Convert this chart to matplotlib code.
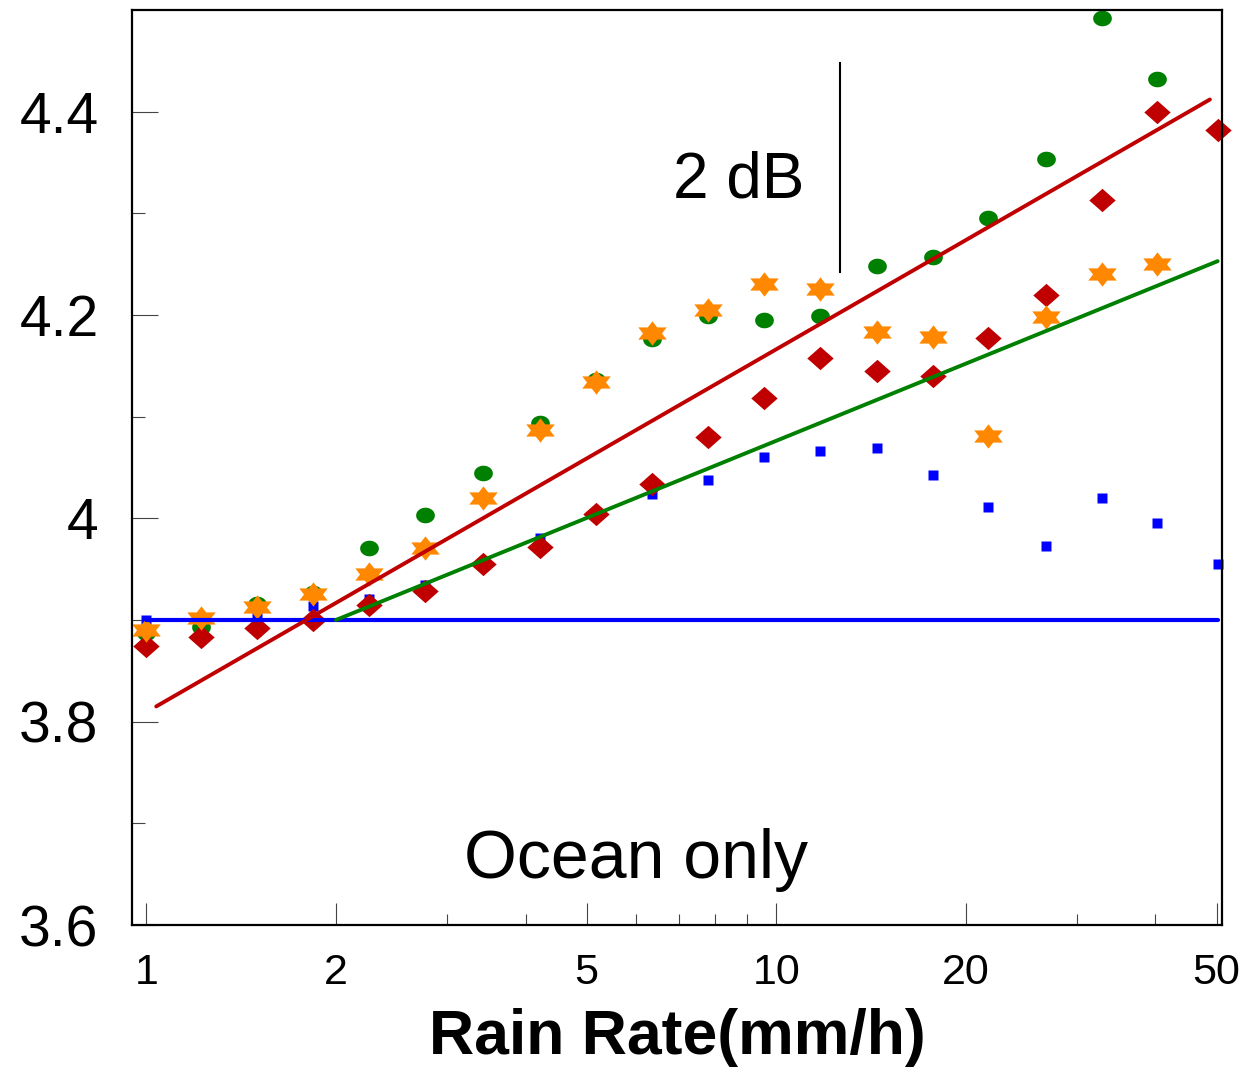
import numpy as np
import matplotlib
matplotlib.use("Agg")
import matplotlib.pyplot as plt
from matplotlib.ticker import FixedLocator, FuncFormatter

plt.rcParams['font.family'] = ['Liberation Sans', 'DejaVu Sans']

# rain rate bins (mm/h)
rain_rate = [1.0, 1.22, 1.50, 1.84, 2.26, 2.77, 3.42, 4.21, 5.17, 6.34,
             7.78, 9.55, 11.72, 14.44, 17.72, 21.67, 26.79, 32.87, 40.2, 50.3]

green_y = [3.887, 3.893, 3.916, 3.927, 3.971, 4.003, 4.045, 4.094, 4.136, 4.176,
           4.199, 4.195, 4.199, 4.248, 4.257, 4.295, 4.353, 4.492, 4.432]
red_y = [3.874, 3.883, 3.892, 3.900, 3.915, 3.929, 3.955, 3.972, 4.004, 4.034,
         4.080, 4.118, 4.158, 4.145, 4.140, 4.177, 4.220, 4.313, 4.400, 4.382]
orange_y = [3.890, 3.902, 3.913, 3.926, 3.945, 3.971, 4.020, 4.087, 4.134, 4.182,
            4.205, 4.231, 4.226, 4.183, 4.178, 4.081, 4.198, 4.240, 4.250]
blue_y = [3.900, 3.901, 3.903, 3.914, 3.921, 3.934, 3.955, 3.981, 4.003, 4.024,
          4.038, 4.060, 4.066, 4.069, 4.043, 4.011, 3.973, 4.020, 3.995, 3.955]

# fitted lines (end points)
red_fit_x = [1.037, 48.8]
red_fit_y = [3.815, 4.412]
green_fit_x = [2.0, 50.2]
green_fit_y = [3.900, 4.253]
blue_fit_x = [1.0, 50.2]
blue_fit_y = [3.900, 3.900]

# 2 dB scale bar
bar_x = [12.61, 12.61]
bar_y = [4.242, 4.448]

# marker shapes (slightly wide like the original)
t = np.linspace(0, 2 * np.pi, 40)
ellipse = list(zip(1.2 * np.cos(t), np.sin(t)))
diamond = [(0, 1), (1.13, 0), (0, -1), (-1.13, 0), (0, 1)]
star = []
for k in range(12):
    ang = np.pi / 2 + k * np.pi / 6
    r = 1.0 if k % 2 == 0 else 1 / np.sqrt(3)
    star.append((1.35 * r * np.cos(ang), r * np.sin(ang)))
star.append(star[0])

fig = plt.figure(figsize=(12.46, 10.69), dpi=100)
ax = fig.add_axes([0.1059, 0.1347, 0.8748, 0.8559])

n = len(blue_y)
ax.plot(rain_rate[:n], blue_y, ls='none', marker='s', ms=7, color='#0000FF',
        mec='none', clip_on=False)
ax.plot(rain_rate[:len(green_y)], green_y, ls='none', marker=ellipse, ms=13.5,
        color='#008000', mec='none', clip_on=False)
ax.plot(rain_rate[:len(red_y)], red_y, ls='none', marker=diamond, ms=19,
        color='#C00000', mec='none', clip_on=False)
ax.plot(rain_rate[:len(orange_y)], orange_y, ls='none', marker=star, ms=20.5,
        color='#FF8800', mec='none', clip_on=False)

ax.plot(blue_fit_x, blue_fit_y, color='#0000FF', lw=3, solid_capstyle='round')
ax.plot(red_fit_x, red_fit_y, color='#C00000', lw=2.8, solid_capstyle='round')
ax.plot(green_fit_x, green_fit_y, color='#008000', lw=2.8, solid_capstyle='round')
ax.plot(bar_x, bar_y, color='black', lw=1.5)

ax.text(11.1, 4.316, '2 dB', fontsize=46, ha='right', va='baseline')
ax.text(5.98, 3.646, 'Ocean only', fontsize=49, ha='center', va='baseline')

ax.set_xscale('log')
ax.set_xlim(0.949, 51)
ax.set_ylim(3.6, 4.5)

ax.xaxis.set_major_locator(FixedLocator([1, 2, 5, 10, 20, 50]))
ax.xaxis.set_minor_locator(FixedLocator([3, 4, 6, 7, 8, 9, 30, 40]))
ax.xaxis.set_major_formatter(FuncFormatter(lambda v, p: '%g' % v))
ax.xaxis.set_minor_formatter(FuncFormatter(lambda v, p: ''))
ax.yaxis.set_major_locator(FixedLocator([3.6, 3.8, 4.0, 4.2, 4.4]))
ax.yaxis.set_minor_locator(FixedLocator([3.7, 3.9, 4.1, 4.3]))
ax.yaxis.set_major_formatter(FuncFormatter(lambda v, p: '%g' % round(v, 1)))

ax.tick_params(axis='x', which='major', direction='in', length=16, width=0.8,
               labelsize=31, pad=20, color='#444444')
ax.tick_params(axis='x', which='minor', direction='in', length=8, width=0.8,
               color='#444444')
ax.tick_params(axis='y', which='major', direction='in', length=19, width=0.8,
               labelsize=41, pad=24, color='#444444')
ax.tick_params(axis='y', which='minor', direction='in', length=9.5, width=0.8,
               color='#444444')

for s in ax.spines.values():
    s.set_linewidth(1.6)

ax.set_xlabel('Rain Rate(mm/h)', fontsize=45, fontweight='bold', labelpad=11)

fig.savefig('out.png', dpi=100)
